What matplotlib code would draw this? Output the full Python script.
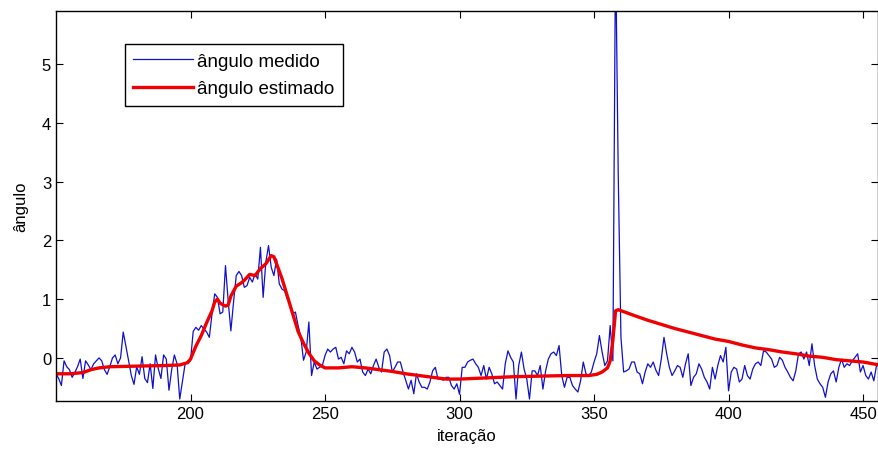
import numpy as np
import matplotlib
matplotlib.use("Agg")
import matplotlib.pyplot as plt

plt.rcParams['font.family'] = ['Liberation Sans', 'DejaVu Sans']

# measured angle, one value per iteration (150..456)
iter_start = 150
medido = [
    -0.27, -0.35, -0.47, -0.05, -0.15, -0.20, -0.33, -0.25, -0.15, -0.02,
    -0.35, -0.05, -0.12, -0.20, -0.10, -0.05, 0.00, -0.05, -0.20, -0.28,
    -0.15, 0.00, 0.05, -0.10, 0.00, 0.44, 0.20, -0.05, -0.30, -0.45,
    -0.15, -0.28, 0.02, -0.35, -0.42, -0.10, -0.52, 0.05, -0.18, -0.35,
    0.05, -0.02, -0.55, -0.20, 0.05, -0.10, -0.70, -0.40, -0.10, -0.05,
    -0.05, 0.45, 0.52, 0.47, 0.55, 0.49, 0.44, 0.35, 0.75, 1.09,
    1.03, 0.75, 0.78, 1.57, 0.97, 0.46, 0.95, 1.40, 1.47, 1.40,
    1.20, 1.23, 1.37, 1.29, 1.43, 1.34, 1.88, 1.03, 1.63, 1.91,
    1.54, 1.40, 1.68, 1.26, 1.17, 1.14, 1.00, 0.92, 0.75, 0.78,
    0.55, 0.35, -0.04, 0.10, 0.61, -0.30, -0.07, -0.19, -0.16, -0.13,
    0.04, 0.15, 0.10, 0.15, 0.18, -0.02, 0.01, -0.10, 0.12, 0.07,
    0.18, 0.10, -0.07, -0.02, -0.24, -0.30, -0.19, -0.27, -0.13, -0.02,
    -0.16, -0.24, 0.10, 0.15, 0.04, -0.24, -0.16, -0.07, -0.07, -0.24,
    -0.38, -0.53, -0.38, -0.61, -0.27, -0.41, -0.50, -0.50, -0.53, -0.41,
    -0.22, -0.16, -0.36, -0.36, -0.38, -0.33, -0.33, -0.47, -0.53, -0.44,
    -0.62, -0.16, -0.16, -0.07, -0.04, -0.02, -0.10, -0.16, -0.30, -0.13,
    -0.36, -0.16, -0.27, -0.44, -0.41, -0.47, -0.53, -0.10, 0.12, 0.01,
    -0.07, -0.70, -0.13, 0.10, -0.19, -0.36, -0.70, -0.22, -0.22, -0.30,
    -0.13, -0.53, -0.22, -0.02, 0.07, 0.10, 0.04, 0.21, -0.30, -0.50,
    -0.33, -0.33, -0.47, -0.53, -0.58, -0.39, -0.07, -0.27, -0.30, -0.24,
    -0.07, 0.07, 0.38, 0.10, -0.13, -0.05, 0.55, -0.05, 7.00, 3.10,
    0.35, -0.24, -0.22, -0.19, -0.07, -0.07, -0.24, -0.27, -0.44, -0.24,
    -0.10, -0.16, -0.07, -0.21, -0.30, -0.02, 0.35, 0.07, -0.16, -0.30,
    -0.22, -0.13, -0.16, -0.33, -0.10, 0.07, -0.47, -0.33, -0.27, -0.10,
    -0.19, -0.33, -0.41, -0.53, -0.16, -0.36, -0.13, 0.04, -0.07, 0.18,
    -0.56, -0.24, -0.16, -0.19, -0.41, -0.36, -0.13, -0.30, -0.36, -0.19,
    -0.10, -0.07, -0.13, 0.12, 0.10, 0.04, -0.02, -0.16, -0.13, 0.01,
    -0.04, -0.16, -0.24, -0.33, -0.39, -0.22, 0.07, 0.10, -0.02, 0.10,
    -0.13, 0.24, -0.13, -0.36, -0.44, -0.50, -0.67, -0.41, -0.27, -0.22,
    -0.41, -0.16, -0.02, -0.16, -0.10, -0.13, -0.05, 0.01, 0.07, -0.24,
    -0.13, -0.30, -0.36, -0.24, -0.39, -0.13, -0.07,
]
iter_medido = np.arange(iter_start, iter_start + len(medido))

# estimated angle (filter output), read at selected iterations
iter_estimado = [150, 155, 160, 163, 166, 170, 180, 190, 196, 199,
                 200, 202, 204, 206, 208, 209, 210, 211, 213, 214,
                 215, 217, 219, 220, 222, 224, 226, 228, 230, 231,
                 232, 234, 236, 238, 240, 242, 244, 246, 248, 250,
                 255, 260, 265, 270, 275, 280, 285, 290, 295, 300,
                 305, 310, 320, 330, 340, 348, 351, 353, 355, 356,
                 357, 358, 359, 362, 365, 370, 375, 380, 385, 390,
                 395, 400, 405, 410, 415, 420, 425, 430, 435, 440,
                 445, 450, 456]
estimado = [-0.27, -0.27, -0.25, -0.20, -0.17, -0.15, -0.14, -0.13, -0.12, -0.08,
            -0.02, 0.20, 0.38, 0.60, 0.80, 0.95, 1.00, 0.93, 0.88, 0.90,
            1.05, 1.22, 1.28, 1.32, 1.42, 1.40, 1.52, 1.60, 1.74, 1.72,
            1.60, 1.35, 1.05, 0.75, 0.45, 0.25, 0.08, -0.05, -0.12, -0.17,
            -0.17, -0.15, -0.17, -0.20, -0.23, -0.27, -0.30, -0.33, -0.36, -0.36,
            -0.35, -0.34, -0.32, -0.31, -0.30, -0.30, -0.28, -0.24, -0.17, -0.05,
            0.30, 0.80, 0.82, 0.77, 0.72, 0.64, 0.57, 0.50, 0.44, 0.38,
            0.32, 0.28, 0.22, 0.17, 0.14, 0.10, 0.07, 0.03, 0.01, -0.03,
            -0.05, -0.07, -0.12]

fig = plt.figure(figsize=(8.79, 4.52), dpi=100)
ax = fig.add_axes([0.0637, 0.111, 0.935, 0.8625])

ax.plot(iter_medido, medido, color='#1010c8', linewidth=0.9, label='ângulo medido')
ax.plot(iter_estimado, estimado, color='#f00000', linewidth=2.4, label='ângulo estimado')

ax.set_xlim(150, 455.5)
ax.set_ylim(-0.73, 5.9)
ax.set_xticks([200, 250, 300, 350, 400, 450])
ax.set_yticks([0, 1, 2, 3, 4, 5])
ax.tick_params(direction='in', top=True, right=True, length=5, labelsize=12)
for s in ax.spines.values():
    s.set_linewidth(1.0)

ax.set_xlabel('iteração', fontsize=12, labelpad=5)
ax.set_ylabel('ângulo', fontsize=12, labelpad=10)

leg = ax.legend(loc='upper left', bbox_to_anchor=(0.084, 0.915), borderaxespad=0,
                fancybox=False, edgecolor='black', fontsize=13.5, handlelength=3.2,
                handletextpad=0.2, borderpad=0.45, labelspacing=0.55, framealpha=1)
leg.get_frame().set_linewidth(1.0)

fig.savefig('out.png', dpi=100)
